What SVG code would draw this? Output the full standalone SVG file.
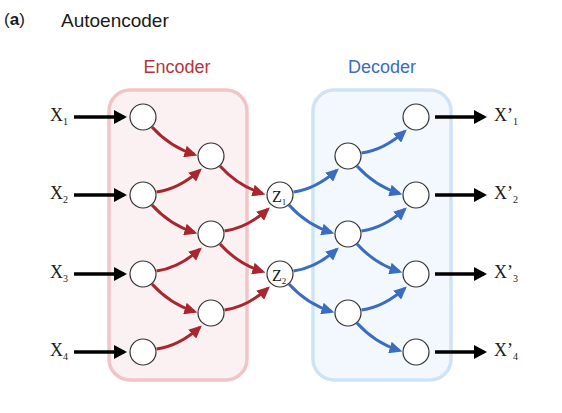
<svg xmlns="http://www.w3.org/2000/svg" width="562" height="413" viewBox="0 0 562 413">
<style>
.title{font-family:"Liberation Sans",Arial,sans-serif;fill:#1a1a1a}
.lbl{font-family:"Liberation Serif","Times New Roman",serif;fill:#1a1a1a}
.node{fill:#ffffff;stroke:#333333;stroke-width:1.2}
.red{fill:none;stroke:#a8262e;stroke-width:3}
.blue{fill:none;stroke:#3a6dc0;stroke-width:3}
.blk{fill:none;stroke:#000000;stroke-width:3.5}
</style>
<defs>
<marker id="mr" markerUnits="userSpaceOnUse" markerWidth="13" markerHeight="12" refX="10" refY="6" orient="auto"><path d="M0,0 L13,6 L0,12 z" fill="#a8262e"/></marker>
<marker id="mb" markerUnits="userSpaceOnUse" markerWidth="13" markerHeight="12" refX="10" refY="6" orient="auto"><path d="M0,0 L13,6 L0,12 z" fill="#3a6dc0"/></marker>
<marker id="mk" markerUnits="userSpaceOnUse" markerWidth="13" markerHeight="14" refX="10" refY="7" orient="auto"><path d="M0,0 L13,7 L0,14 z" fill="#000000"/></marker>
</defs>
<rect width="562" height="413" fill="#ffffff"/>
<text class="title" x="4" y="25" font-size="17">(<tspan font-weight="bold">a</tspan>)</text>
<text class="title" x="61" y="26.5" font-size="19">Autoencoder</text>

<g id="encoder-box">
<rect x="109" y="90" width="138" height="290" rx="21" fill="#fcf1f2" stroke="#f1c5c8" stroke-width="3.5"/>
<text x="177" y="73" font-size="18" text-anchor="middle" font-family="Liberation Sans, Arial, sans-serif" fill="#b5363c">Encoder</text>
</g>
<g id="decoder-box">
<rect x="313" y="90" width="138" height="290" rx="21" fill="#f2f8fd" stroke="#cfe3f6" stroke-width="3.5"/>
<text x="382" y="73" font-size="18" text-anchor="middle" font-family="Liberation Sans, Arial, sans-serif" fill="#3a6dc0">Decoder</text>
</g>

<g id="connectors">
<g class="blk-arrows">
<path class="blk" d="M74,117 L124,117" marker-end="url(#mk)"/>
<path class="blk" d="M74,195 L124,195" marker-end="url(#mk)"/>
<path class="blk" d="M74,274 L124,274" marker-end="url(#mk)"/>
<path class="blk" d="M74,352 L124,352" marker-end="url(#mk)"/>
<path class="blk" d="M435,117 L484,117" marker-end="url(#mk)"/>
<path class="blk" d="M435,195 L484,195" marker-end="url(#mk)"/>
<path class="blk" d="M435,274 L484,274" marker-end="url(#mk)"/>
<path class="blk" d="M435,352 L484,352" marker-end="url(#mk)"/>
</g>
<g class="enc-arrows">
<path class="red" d="M152,127 Q170,147 194.5,154.5" marker-end="url(#mr)"/>
<path class="red" d="M156.5,192 Q179,189 199.6,170.4" marker-end="url(#mr)"/>
<path class="red" d="M152,205 Q170,225 194.5,232.5" marker-end="url(#mr)"/>
<path class="red" d="M156.5,271 Q179,268 199.6,249.4" marker-end="url(#mr)"/>
<path class="red" d="M152,284 Q170,304 194.5,311.5" marker-end="url(#mr)"/>
<path class="red" d="M156.5,349 Q179,346 199.6,327.4" marker-end="url(#mr)"/>
<path class="red" d="M220,166 Q238,186 262.5,193.5" marker-end="url(#mr)"/>
<path class="red" d="M224.5,231 Q247,228 267.6,209.4" marker-end="url(#mr)"/>
<path class="red" d="M220,244 Q238,264 262.5,271.5" marker-end="url(#mr)"/>
<path class="red" d="M224.5,310 Q247,307 267.6,288.4" marker-end="url(#mr)"/>
</g>
<g class="dec-arrows">
<path class="blue" d="M293.5,192 Q316,189 336.6,170.4" marker-end="url(#mb)"/>
<path class="blue" d="M289,205 Q307,225 331.5,232.5" marker-end="url(#mb)"/>
<path class="blue" d="M293.5,271 Q316,268 336.6,249.4" marker-end="url(#mb)"/>
<path class="blue" d="M289,284 Q307,304 331.5,311.5" marker-end="url(#mb)"/>
<path class="blue" d="M361.5,153 Q384,150 404.6,131.4" marker-end="url(#mb)"/>
<path class="blue" d="M357,166 Q375,186 399.5,193.5" marker-end="url(#mb)"/>
<path class="blue" d="M361.5,231 Q384,228 404.6,209.4" marker-end="url(#mb)"/>
<path class="blue" d="M357,244 Q375,264 399.5,271.5" marker-end="url(#mb)"/>
<path class="blue" d="M361.5,310 Q384,307 404.6,288.4" marker-end="url(#mb)"/>
<path class="blue" d="M357,323 Q375,343 399.5,350.5" marker-end="url(#mb)"/>
</g>
</g>

<g id="in-x1"><text class="lbl" x="50" y="121" font-size="18">X<tspan font-size="10" dy="3.5">1</tspan></text></g>
<g id="in-x2"><text class="lbl" x="50" y="199" font-size="18">X<tspan font-size="10" dy="3.5">2</tspan></text></g>
<g id="in-x3"><text class="lbl" x="50" y="278" font-size="18">X<tspan font-size="10" dy="3.5">3</tspan></text></g>
<g id="in-x4"><text class="lbl" x="50" y="356" font-size="18">X<tspan font-size="10" dy="3.5">4</tspan></text></g>

<g id="out-x1"><text class="lbl" x="494" y="121" font-size="18">X’<tspan font-size="10" dy="3.5">1</tspan></text></g>
<g id="out-x2"><text class="lbl" x="494" y="199" font-size="18">X’<tspan font-size="10" dy="3.5">2</tspan></text></g>
<g id="out-x3"><text class="lbl" x="494" y="278" font-size="18">X’<tspan font-size="10" dy="3.5">3</tspan></text></g>
<g id="out-x4"><text class="lbl" x="494" y="356" font-size="18">X’<tspan font-size="10" dy="3.5">4</tspan></text></g>

<g id="e1-1"><circle class="node" cx="143" cy="117" r="13"/></g>
<g id="e1-2"><circle class="node" cx="143" cy="195" r="13"/></g>
<g id="e1-3"><circle class="node" cx="143" cy="274" r="13"/></g>
<g id="e1-4"><circle class="node" cx="143" cy="352" r="13"/></g>
<g id="e2-1"><circle class="node" cx="211" cy="156" r="13"/></g>
<g id="e2-2"><circle class="node" cx="211" cy="234" r="13"/></g>
<g id="e2-3"><circle class="node" cx="211" cy="313" r="13"/></g>
<g id="z1"><circle class="node" cx="280" cy="195" r="13"/><text class="lbl" x="272" y="201.5" font-size="16">Z<tspan font-size="9" dy="3">1</tspan></text></g>
<g id="z2"><circle class="node" cx="280" cy="274" r="13"/><text class="lbl" x="272" y="280.5" font-size="16">Z<tspan font-size="9" dy="3">2</tspan></text></g>
<g id="d1-1"><circle class="node" cx="348" cy="156" r="13"/></g>
<g id="d1-2"><circle class="node" cx="348" cy="234" r="13"/></g>
<g id="d1-3"><circle class="node" cx="348" cy="313" r="13"/></g>
<g id="d2-1"><circle class="node" cx="416" cy="117" r="13"/></g>
<g id="d2-2"><circle class="node" cx="416" cy="195" r="13"/></g>
<g id="d2-3"><circle class="node" cx="416" cy="274" r="13"/></g>
<g id="d2-4"><circle class="node" cx="416" cy="352" r="13"/></g>
</svg>
